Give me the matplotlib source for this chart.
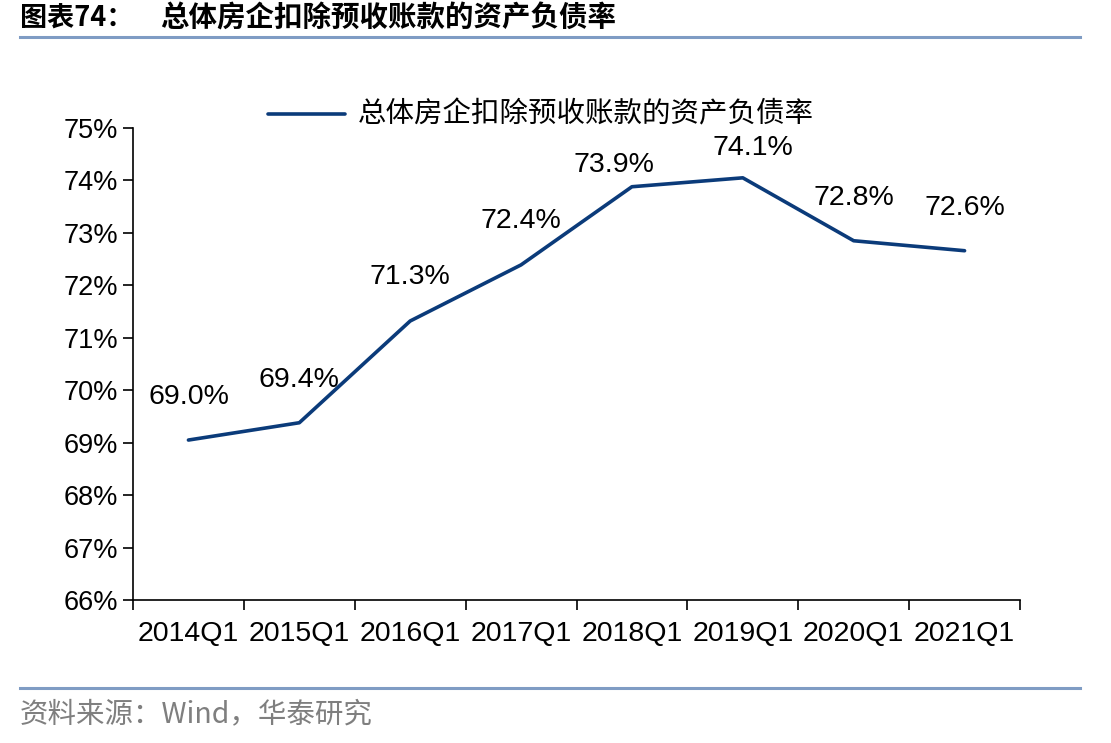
import matplotlib
matplotlib.use("Agg")
import matplotlib.pyplot as plt
from matplotlib.lines import Line2D
import numpy as np

plt.rcParams['font.family'] = ['Liberation Sans', 'Noto Sans CJK SC', 'DejaVu Sans']

categories = ['2014Q1', '2015Q1', '2016Q1', '2017Q1', '2018Q1', '2019Q1', '2020Q1', '2021Q1']
values = [69.05, 69.38, 71.32, 72.39, 73.88, 74.05, 72.85, 72.66]
labels = ['69.0%', '69.4%', '71.3%', '72.4%', '73.9%', '74.1%', '72.8%', '72.6%']
series_name = '总体房企扣除预收账款的资产负债率'
title_head = '图表74：'
title_body = '总体房企扣除预收账款的资产负债率'
source = '资料来源：Wind，华泰研究'

W, H = 1111, 743
fig = plt.figure(figsize=(W / 100, H / 100), dpi=100)
ax = fig.add_axes([133 / W, 1 - 600 / H, (1020 - 133) / W, (600 - 128) / H])

navy = '#0b3b7a'
x = np.arange(len(categories))
ax.plot(x, values, color=navy, lw=2.6, solid_capstyle='round')

# label offsets in pixels
offs = [(0, 43), (0, 43), (0, 44), (0, 44), (-18, 22), (10, 30), (0, 43), (0, 43)]
for xi, v, lab, (dx, dy) in zip(x, values, labels, offs):
    ax.annotate(lab, (xi, v), xytext=(dx * 0.72, dy * 0.72), textcoords='offset points',
                ha='center', va='center', fontsize=20.5)

ax.set_xlim(-0.5, len(categories) - 0.5)
ax.set_ylim(66, 75)
ax.set_yticks(np.arange(66, 76, 1))
ax.set_yticklabels([f'{t}%' for t in range(66, 76)], fontsize=19.5)
ax.set_xticks(x)
ax.set_xticklabels(categories, fontsize=20.5)
ax.set_xticks(np.arange(-0.5, len(categories), 1), minor=True)
ax.tick_params(axis='x', which='major', length=0, pad=15)
ax.tick_params(axis='x', which='minor', length=7, width=1.2, direction='out')
ax.tick_params(axis='y', length=7, width=1.2, direction='out', pad=3.5)
for s in ['top', 'right']:
    ax.spines[s].set_visible(False)
for s in ['left', 'bottom']:
    ax.spines[s].set_linewidth(1.2)

# legend
fig.add_artist(Line2D([268 / W, 345 / W], [1 - 114 / H] * 2, color=navy, lw=2.6,
                      solid_capstyle='round'))
fig.text(358 / W, 1 - 114 / H, series_name, fontsize=20.5, va='center', ha='left',
         family=['Noto Sans CJK SC'])

# title and footer
fig.text(20 / W, 1 - 19 / H, title_head, fontsize=19.5, fontweight='bold', va='center', ha='left',
         family=['Noto Sans CJK SC', 'DejaVu Sans'])
fig.text(160 / W, 1 - 19 / H, title_body, fontsize=20.5, fontweight='bold', va='center', ha='left',
         family=['Noto Sans CJK SC', 'DejaVu Sans'])
for yy in [37, 688]:
    fig.add_artist(Line2D([20 / W, 1080 / W], [1 - yy / H] * 2, color='#7f9cc4', lw=2.2))
fig.text(20 / W, 1 - 714 / H, source, fontsize=20.5, color='#7f7f7f', va='center', ha='left',
         family=['Noto Sans CJK SC', 'DejaVu Sans'])

fig.savefig('out.png', dpi=100)
